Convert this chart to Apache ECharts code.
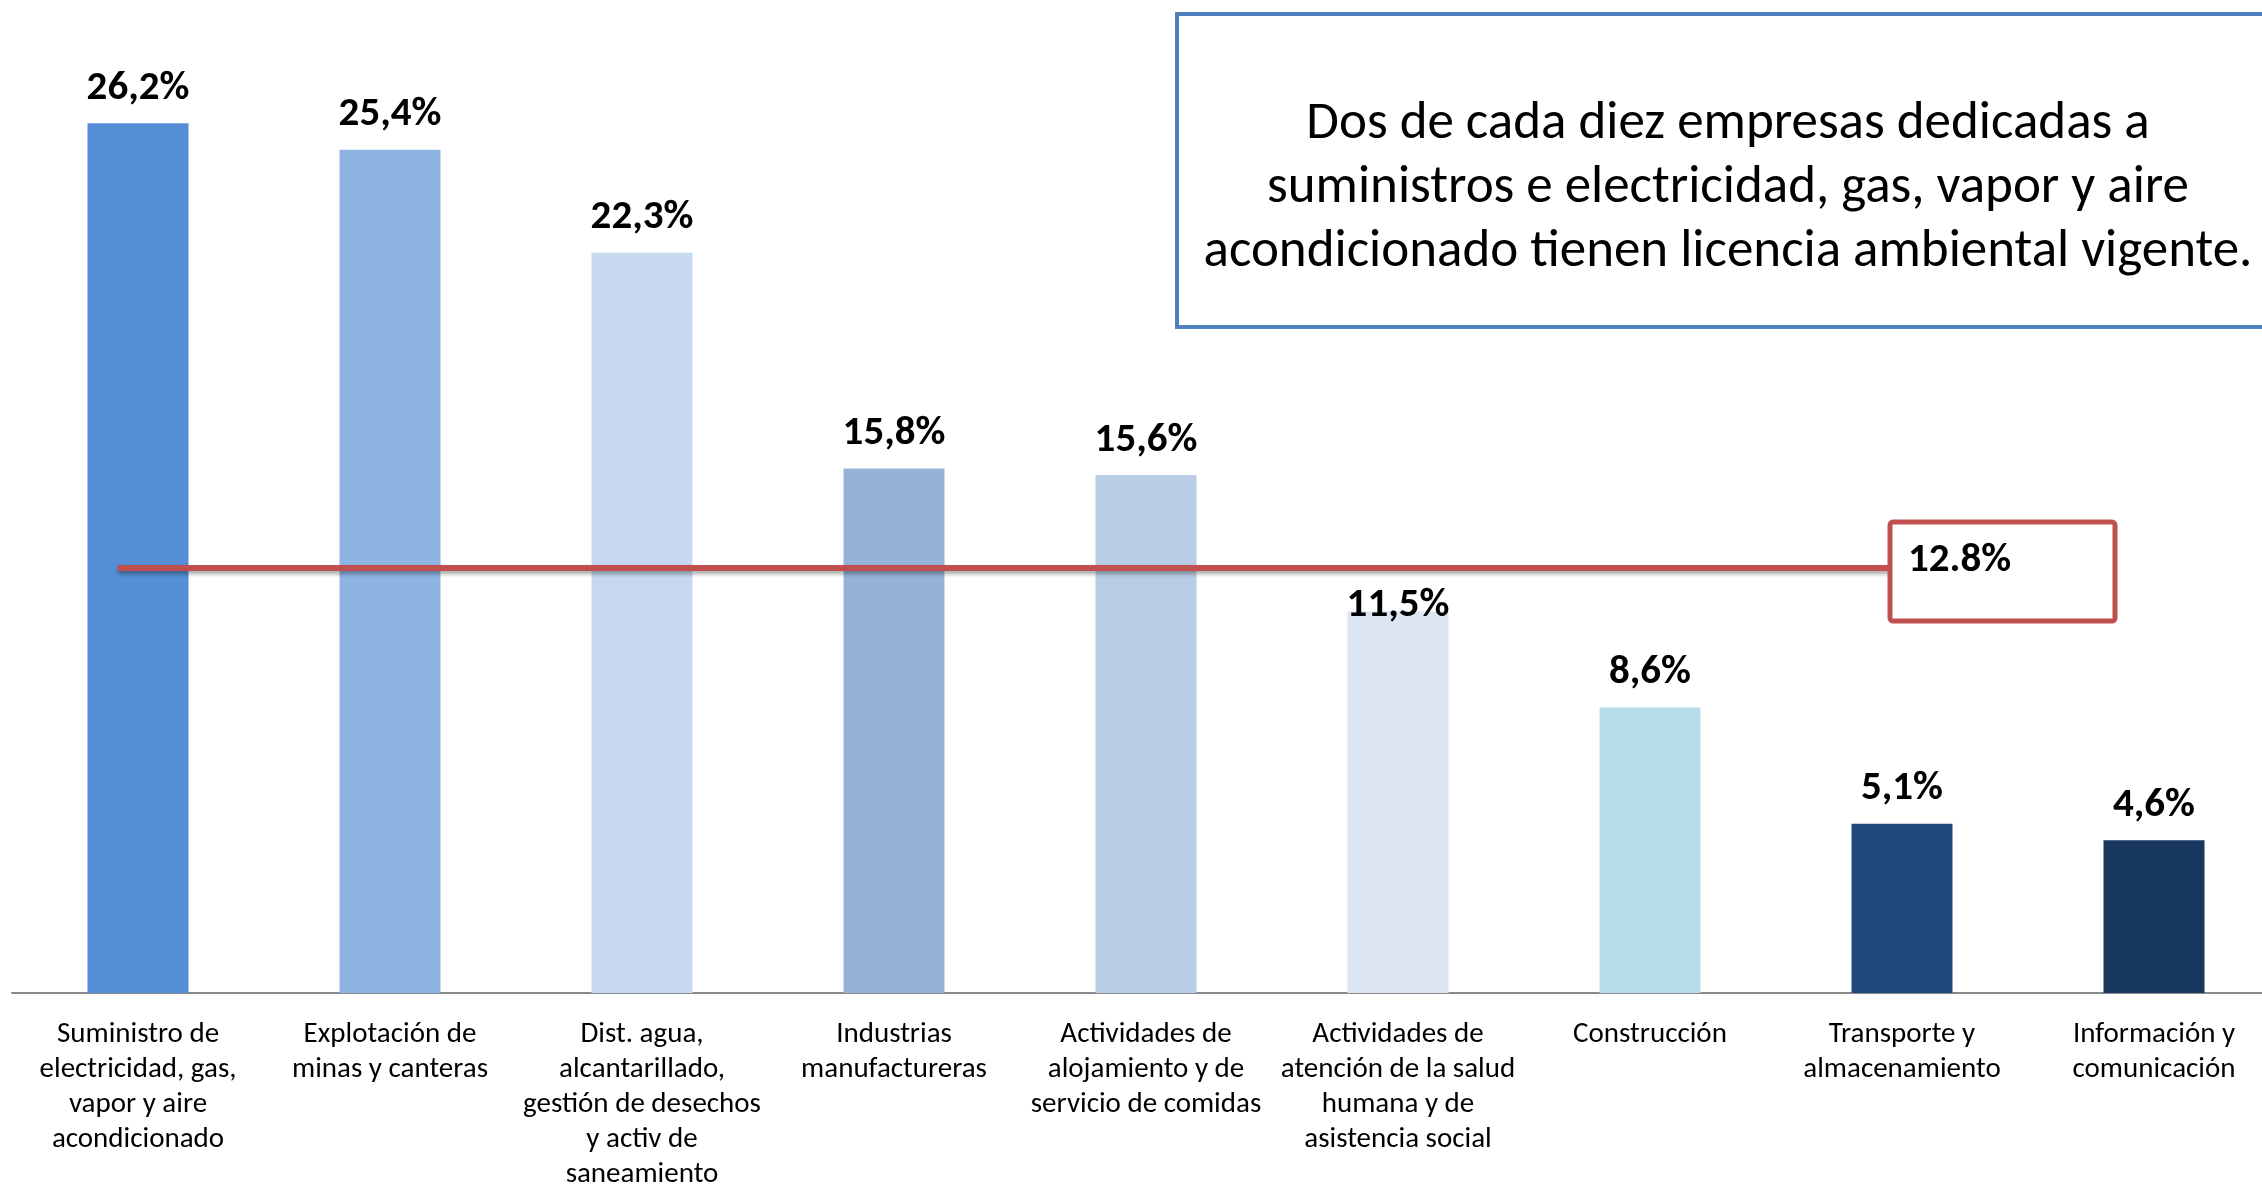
<!DOCTYPE html>
<html><head><meta charset="utf-8">
<script src="https://cdn.jsdelivr.net/npm/echarts@6/dist/echarts.min.js"></script>
<style>html,body{margin:0;padding:0;background:#fff}#c{width:2262px;height:1185px}</style>
</head><body><div id="c"></div>
<script>
const categories = [
  "Suministro de\nelectricidad, gas,\nvapor y aire\nacondicionado",
  "Explotación de\nminas y canteras",
  "Dist. agua,\nalcantarillado,\ngestión de desechos\ny activ de\nsaneamiento",
  "Industrias\nmanufactureras",
  "Actividades de\nalojamiento y de\nservicio de comidas",
  "Actividades de\natención de la salud\nhumana y de\nasistencia social",
  "Construcción",
  "Transporte y\nalmacenamiento",
  "Información y\ncomunicación"
];
const values = [26.2, 25.4, 22.3, 15.8, 15.6, 11.5, 8.6, 5.1, 4.6];
const barColors = ["#558ED5","#8EB4E3","#C6D9F1","#95B3D7","#B9CDE5","#DCE6F2","#B7DEE8","#1F497D","#17375E"];
const averageValue = 12.8;
const averageLabel = "12.8%";
const noteLines = [
  "Dos de cada diez empresas dedicadas a",
  "suministros e electricidad, gas, vapor y aire",
  "acondicionado tienen licencia ambiental vigente."
];

const FONT = "Carlito, Lato, 'Open Sans', sans-serif";
const chart = echarts.init(document.getElementById('c'), null, {renderer: 'canvas'});

const seriesData = values.map((v, i) => ({
  value: v,
  itemStyle: {color: barColors[i]},
  label: i === 5 ? {distance: -15} : undefined
}));

chart.setOption({
  animation: false,
  backgroundColor: '#ffffff',
  grid: {left: 12, top: -3, width: 2268, bottom: 192, outerBoundsMode: 'none', containLabel: false},
  xAxis: {
    type: 'category',
    data: categories,
    axisLine: {lineStyle: {color: '#8a8a8a', width: 2}},
    axisTick: {show: false},
    axisLabel: {
      interval: 0, color: '#000', fontFamily: FONT, fontSize: 29,
      lineHeight: 35, margin: 24
    }
  },
  yAxis: {type: 'value', min: 0, max: 30, show: false, splitLine: {show: false}},
  series: [{
    type: 'bar',
    data: seriesData,
    barWidth: 101,
    label: {
      show: true, position: 'top', distance: 14,
      fontFamily: FONT, fontWeight: 'bold', fontSize: 41, color: '#000',
      formatter: p => p.value.toFixed(1).replace('.', ',') + '%'
    },
    markLine: {
      silent: true, symbol: 'none',
      label: {show: false},
      lineStyle: {color: '#C0504D', width: 6, type: 'solid',
        shadowColor: 'rgba(0,0,0,0.35)', shadowBlur: 4, shadowOffsetY: 3},
      data: [[
        {xAxis: 0, yAxis: averageValue, x: 118},
        {xAxis: 7, yAxis: averageValue, x: 1892}
      ]]
    }
  }]
});

const yAvg = chart.convertToPixel({yAxisIndex: 0}, averageValue);
chart.setOption({
  graphic: [
    {type: 'rect', shape: {x: 1890, y: yAvg - 46, width: 225, height: 99, r: 3},
     style: {fill: '#fff', stroke: '#C0504D', lineWidth: 5}, z: 10},
    {type: 'text', x: 1908, y: yAvg - 7,
     style: {text: averageLabel, font: "bold 41px " + FONT, fill: '#000', textVerticalAlign: 'middle'}, z: 11},
    {type: 'rect', shape: {x: 1177, y: 14, width: 1200, height: 313},
     style: {fill: '#fff', stroke: '#4F81BD', lineWidth: 4}, z: 10},
    {type: 'text', x: 1728, y: 189,
     style: {text: noteLines.join('\n'), font: "53px " + FONT, fill: '#000',
       textAlign: 'center', textVerticalAlign: 'middle', lineHeight: 64}, z: 11}
  ]
});
</script></body></html>
